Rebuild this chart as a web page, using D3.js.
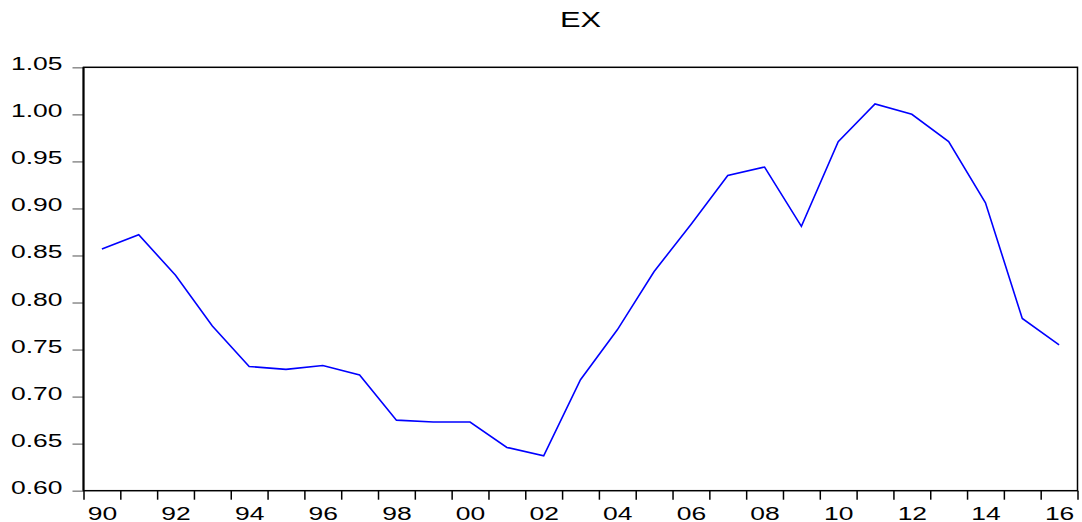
<!DOCTYPE html>
<html>
<head>
<meta charset="utf-8">
<script src="https://cdn.jsdelivr.net/npm/d3@7"></script>
<style>
  body { margin: 0; background: #fff; }
  svg { display: block; }
  text { font-family: "Liberation Sans", Arial, sans-serif; fill: #000; }
</style>
</head>
<body>
<svg id="chart" width="1082" height="522"></svg>
<script>
// annual series
var years = [1990, 1991, 1992, 1993, 1994, 1995, 1996, 1997, 1998, 1999,
             2000, 2001, 2002, 2003, 2004, 2005, 2006, 2007, 2008, 2009,
             2010, 2011, 2012, 2013, 2014, 2015, 2016];
var ex = [0.857, 0.872, 0.829, 0.775, 0.732, 0.729, 0.733, 0.723, 0.675, 0.673,
          0.673, 0.646, 0.637, 0.718, 0.771, 0.833, 0.883, 0.935, 0.944, 0.881,
          0.971, 1.011, 1.000, 0.971, 0.906, 0.783, 0.755];
var yTicks = [0.60, 0.65, 0.70, 0.75, 0.80, 0.85, 0.90, 0.95, 1.00, 1.05];
var xLabelYears = [1990, 1992, 1994, 1996, 1998, 2000, 2002, 2004, 2006, 2008,
                   2010, 2012, 2014, 2016];
var title = 'EX';

var sx = 1.43; // the fonts in the original are stretched wide
var pLeft = 83.5, pRight = 1077.5, pTop = 67.3, pBottom = 490.7;

var svg = d3.select('#chart');

var x = d3.scaleLinear()
  .domain([years[0], years[years.length - 1] + 1])
  .range([pLeft, pRight]);
var y = d3.scaleLinear()
  .domain([0.60, 1.05])
  .range([pBottom, pTop]);

// y axis, gray ticks outside the frame
var yAxis = svg.append('g')
  .attr('transform', 'translate(' + pLeft + ',0)')
  .call(d3.axisLeft(y).tickValues(yTicks).tickSize(11).tickPadding(0)
    .tickFormat(d => d.toFixed(2)));
yAxis.select('.domain').remove();
yAxis.selectAll('line').attr('stroke', '#8c8c8c').attr('stroke-width', 1.5);
yAxis.selectAll('text')
  .attr('font-size', '18.5px')
  .attr('text-anchor', 'end')
  .attr('dy', null)
  .attr('y', 2.5)
  .attr('x', -21 / sx)
  .attr('transform', 'scale(' + sx + ',1)');

// x axis: one tick per year boundary
var tickYears = years.concat([years[years.length - 1] + 1]);
var xTicks = svg.append('g')
  .attr('transform', 'translate(0,' + pBottom + ')')
  .call(d3.axisBottom(x).tickValues(tickYears).tickSize(9).tickFormat(''));
xTicks.select('.domain').remove();
xTicks.selectAll('line').attr('stroke', '#000').attr('stroke-width', 1.5);

// labels sit in the middle of each year
var xLabels = svg.append('g')
  .attr('transform', 'translate(0,' + pBottom + ')')
  .call(d3.axisBottom(x).tickValues(xLabelYears.map(d => d + 0.5)).tickSize(0)
    .tickFormat(d => String(Math.floor(d) % 100).padStart(2, '0')));
xLabels.select('.domain').remove();
xLabels.selectAll('text')
  .attr('font-size', '18.5px')
  .attr('dy', null)
  .attr('y', 29)
  .attr('x', 0)
  .attr('transform', 'scale(' + sx + ',1)');

// frame
svg.append('rect')
  .attr('x', pLeft).attr('y', pTop)
  .attr('width', pRight - pLeft).attr('height', pBottom - pTop)
  .attr('fill', 'none')
  .attr('stroke', '#000')
  .attr('stroke-width', 1.5);
svg.append('line')
  .attr('x1', pLeft).attr('x2', pLeft)
  .attr('y1', pTop).attr('y2', pBottom)
  .attr('stroke', '#000').attr('stroke-width', 2);

// series
var line = d3.line()
  .x((d, i) => x(years[i] + 0.5))
  .y(d => y(d));

svg.append('path')
  .datum(ex)
  .attr('d', line)
  .attr('fill', 'none')
  .attr('stroke', '#0000ff')
  .attr('stroke-width', 1.6)
  .attr('stroke-linejoin', 'miter');

// title
svg.append('text')
  .attr('transform', 'translate(' + ((pLeft + pRight) / 2) + ',26.7) scale(1.4,1)')
  .attr('text-anchor', 'middle')
  .attr('font-size', '22px')
  .text(title);
</script>
</body>
</html>
